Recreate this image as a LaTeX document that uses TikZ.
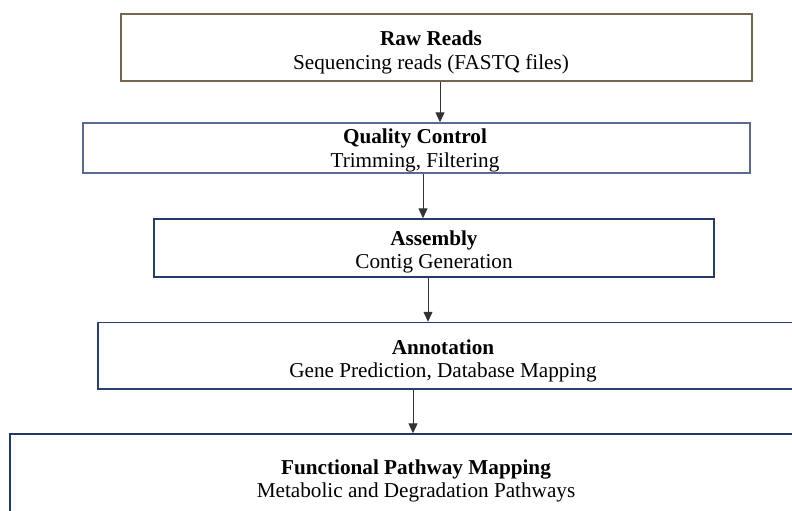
\documentclass[tikz,border=0pt]{standalone}
\usepackage{fontspec}
\setmainfont{Liberation Serif}
\usetikzlibrary{arrows.meta}
\definecolor{bA}{HTML}{76664E}
\definecolor{bB}{HTML}{5A6A92}
\definecolor{bC}{HTML}{263B6C}
\definecolor{bD}{HTML}{2A3E70}
\definecolor{bE}{HTML}{223868}
\definecolor{arrc}{HTML}{333333}
\begin{document}
\begin{tikzpicture}[x=1pt,y=-1pt,
  box/.style={draw, line width=1.4pt, fill=white, inner sep=0pt, rectangle},
  txt/.style={inner sep=0pt, align=center, font=\fontsize{21.2}{23.5}\selectfont},
  arr/.style={draw=arrc, line width=1pt, -{Triangle[length=10pt,width=9pt]}}]
\useasboundingbox (0,0) rectangle (792,511);
\clip (0,0) rectangle (792,511);
\fill[white] (0,0) rectangle (792,511);
% boxes
\node[box, draw=bA, minimum width=631pt, minimum height=67pt] (b1) at (436.5,47.5) {};
\node[box, draw=bB, minimum width=667pt, minimum height=50pt] (b2) at (416.5,148) {};
\node[box, draw=bC, minimum width=560pt, minimum height=58pt] (b3) at (434,248) {};
\node[box, draw=bD, minimum width=722pt, minimum height=66.5pt] (b4) at (459,355.75) {};
\node[box, draw=bE, minimum width=820pt, minimum height=106pt] (b5) at (420,487) {};
% texts
\node[txt] (t1) at (431,52.5) {\textbf{Raw Reads}\\Sequencing reads (FASTQ files)};
\node[txt] (t2) at (415,150.5) {\textbf{Quality Control}\\Trimming, Filtering};
\node[txt] (t3) at (434,252) {\textbf{Assembly}\\Contig Generation};
\node[txt] (t4) at (443,361) {\textbf{Annotation}\\Gene Prediction, Database Mapping};
\node[txt] (t5) at (416,481) {\textbf{Functional Pathway Mapping}\\Metabolic and Degradation Pathways};
% arrows
\draw[arr] ([xshift=3.5pt]b1.south) -- ([xshift=3.5pt]b1.south |- b2.north);
\draw[arr] ([xshift=6.5pt]b2.south) -- ([xshift=6.5pt]b2.south |- b3.north);
\draw[arr] ([xshift=-6pt]b3.south) -- ([xshift=-6pt]b3.south |- b4.north);
\draw[arr] ([xshift=-46pt]b4.south) -- ([xshift=-46pt]b4.south |- b5.north);
\end{tikzpicture}
\end{document}
